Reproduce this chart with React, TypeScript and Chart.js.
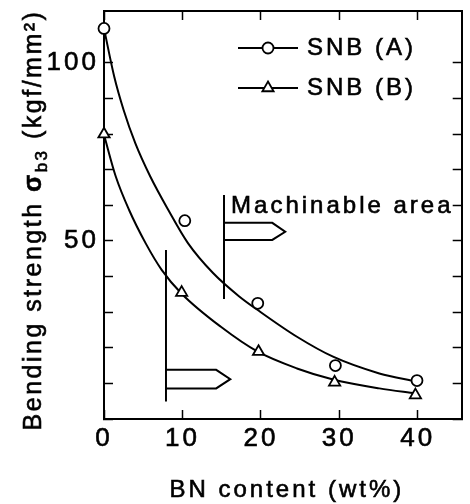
import React, { useEffect, useRef } from 'react';
import { Chart, registerables } from 'chart.js';

Chart.register(...registerables);

const FONT = '"Liberation Sans", Arial, Helvetica, sans-serif';

// ---- axis ticks ----
const bnTicks = [0, 10, 20, 30, 40];
const strengthTickLabels = [50, 100];
const bnMax = 45.6;
const strengthMax = 114.6;

// ---- measured points ----
const bnA = [0, 10.3, 19.6, 29.5, 39.9];
const strengthA = [109.7, 55.7, 32.5, 15.0, 10.8];
const bnB = [0, 9.9, 19.7, 29.4, 39.7];
const strengthB = [80, 35.5, 18.9, 10.3, 6.7];

// ---- fitted curves ----
const curveAx = [0, 1.3, 2.5, 4, 5.9, 8.2, 10.7, 13.9, 17.2, 19.6, 24.6, 29.2, 35.1, 39.8];
const curveAy = [109.7, 96.2, 86.8, 77.4, 68.1, 58.7, 49.4, 41.0, 34.5, 30.6, 23.1, 17.5, 12.8, 10.5];
const curveBx = [0, 1.5, 3.2, 5.3, 7.35, 9.9, 14.9, 19.6, 24.6, 29.2, 35.1, 39.7];
const curveBy = [79.8, 68.1, 58.7, 49.4, 41.9, 35.2, 25.9, 18.9, 14.2, 11.1, 8.6, 7.2];

// ---- machinable-area markers (data coordinates) ----
const machLineX = [15.3, 15.3];
const machLineY = [62.9, 33.7];
const machArrowX = [15.3, 21.45, 23.1, 21.45, 15.3];
const machArrowY = [55.1, 55.1, 52.6, 50.3, 50.3];
const lowLineX = [7.9, 7.9];
const lowLineY = [47.5, 4.9];
const lowArrowX = [7.9, 14.3, 16.1, 14.3, 7.9];
const lowArrowY = [13.8, 13.8, 11.2, 8.6, 8.6];
const machLabel = 'Machinable area';
const machLabelPos = [16.2, 57.8];

const seriesNames = ['SNB (A)', 'SNB (B)'];
const yTitleParts = ['Bending strength ', 'σ', 'b3', ' (kgf/mm²)'];
const xTitle = 'BN content (wt%)';

const zip = (xs: number[], ys: number[]) => xs.map((x, i) => ({ x, y: ys[i] }));

const SPACING = '3px';
const STROKE = 0.6;

function heavyText(ctx: CanvasRenderingContext2D, t: string, x: number, y: number) {
  ctx.fillText(t, x, y);
  ctx.lineWidth = STROKE;
  ctx.strokeText(t, x, y);
}

const decorPlugin = {
  id: 'decor',
  beforeUpdate(chart: any) {
    chart.ctx.letterSpacing = SPACING;
  },
  beforeDraw(chart: any) {
    chart.ctx.letterSpacing = SPACING;
  },
  afterDraw(chart: any) {
    const ctx = chart.ctx as CanvasRenderingContext2D;
    const xs = chart.scales.x;
    const ys = chart.scales.y;
    const area = chart.chartArea;
    ctx.save();
    (ctx as any).letterSpacing = SPACING;
    ctx.fillStyle = '#000';
    ctx.strokeStyle = '#000';

    // Machinable area label
    ctx.font = `24px ${FONT}`;
    ctx.textAlign = 'left';
    ctx.textBaseline = 'alphabetic';
    heavyText(ctx, machLabel, xs.getPixelForValue(machLabelPos[0]), ys.getPixelForValue(machLabelPos[1]));

    // X title
    ctx.textAlign = 'center';
    ctx.textBaseline = 'middle';
    heavyText(ctx, xTitle, (area.left + area.right) / 2 + 4, 490);

    // Legend
    const legendRows = [48, 88];
    ctx.textAlign = 'left';
    ctx.textBaseline = 'middle';
    legendRows.forEach((ly, i) => {
      ctx.lineWidth = 2;
      ctx.beginPath();
      ctx.moveTo(238, ly);
      ctx.lineTo(298, ly);
      ctx.stroke();
      ctx.fillStyle = '#fff';
      ctx.lineWidth = 1.8;
      ctx.beginPath();
      if (i === 0) {
        ctx.arc(268, ly, 5.5, 0, Math.PI * 2);
      } else {
        const r = 6.5;
        const cx = 268;
        const cy = ly;
        ctx.moveTo(cx, cy - r);
        ctx.lineTo(cx + r * Math.sin(Math.PI * 2 / 3), cy - r * Math.cos(Math.PI * 2 / 3));
        ctx.lineTo(cx + r * Math.sin(Math.PI * 4 / 3), cy - r * Math.cos(Math.PI * 4 / 3));
        ctx.closePath();
      }
      ctx.fill();
      ctx.stroke();
      ctx.fillStyle = '#000';
      heavyText(ctx, seriesNames[i], 307, ly);
    });

    // Y title (rotated, with subscript)
    const big = `25px ${FONT}`;
    const bold = `bold 25px ${FONT}`;
    const small = `17px ${FONT}`;
    const parts = [
      { t: yTitleParts[0], f: big, dy: 0 },
      { t: yTitleParts[1], f: bold, dy: 0 },
      { t: yTitleParts[2], f: small, dy: 6 },
      { t: yTitleParts[3], f: big, dy: 0 },
    ];
    (ctx as any).letterSpacing = '2.5px';
    let total = 0;
    const widths = parts.map((p) => {
      ctx.font = p.f;
      const w = ctx.measureText(p.t).width;
      total += w;
      return w;
    });
    ctx.translate(41, 220);
    ctx.rotate(-Math.PI / 2);
    ctx.textAlign = 'left';
    ctx.textBaseline = 'alphabetic';
    let cx = -total / 2;
    parts.forEach((p, i) => {
      ctx.font = p.f;
      heavyText(ctx, p.t, cx, p.dy);
      cx += widths[i];
    });
    ctx.restore();
  },
};

const tickGrid = {
  drawOnChartArea: false,
  drawTicks: true,
  tickLength: -9,
  tickWidth: 1.5,
  tickColor: '#000',
};

const fixBox = (w: number | null, h: number | null) => (s: any) => {
  if (w !== null) s.width = w;
  if (h !== null) s.height = h;
  s.paddingTop = 0;
  s.paddingBottom = 0;
  s.paddingLeft = 0;
  s.paddingRight = 0;
};

export default function App() {
  const ref = useRef<HTMLCanvasElement | null>(null);

  useEffect(() => {
    if (!ref.current) return;
    Chart.defaults.font.family = FONT;
    Chart.defaults.color = '#000';

    const lineDs = (data: any[], width: number) => ({
      type: 'scatter' as const,
      data,
      showLine: true,
      borderColor: '#000',
      borderWidth: width,
      pointRadius: 0,
      pointHoverRadius: 0,
      fill: false,
      borderJoinStyle: 'miter' as const,
    });

    const chart = new Chart(ref.current, {
      type: 'scatter',
      data: {
        datasets: [
          {
            label: seriesNames[0],
            data: zip(bnA, strengthA),
            pointStyle: 'circle',
            pointRadius: 5.5,
            pointBorderWidth: 1.8,
            pointBackgroundColor: '#fff',
            pointBorderColor: '#000',
            showLine: false,
            clip: false,
          } as any,
          {
            label: seriesNames[1],
            data: zip(bnB, strengthB),
            pointStyle: 'triangle',
            pointRadius: 6.5,
            pointBorderWidth: 1.8,
            pointBackgroundColor: '#fff',
            pointBorderColor: '#000',
            showLine: false,
            clip: false,
          } as any,
          { ...lineDs(zip(curveAx, curveAy), 2), cubicInterpolationMode: 'monotone' } as any,
          { ...lineDs(zip(curveBx, curveBy), 2), cubicInterpolationMode: 'monotone' } as any,
          lineDs(zip(machLineX, machLineY), 2) as any,
          lineDs(zip(machArrowX, machArrowY), 2) as any,
          lineDs(zip(lowLineX, lowLineY), 2) as any,
          lineDs(zip(lowArrowX, lowArrowY), 2) as any,
        ],
      },
      options: {
        responsive: false,
        animation: false,
        devicePixelRatio: 1,
        layout: { padding: 0 },
        plugins: {
          legend: { display: false },
          tooltip: { enabled: false },
        },
        scales: {
          x: {
            type: 'linear',
            position: 'bottom',
            min: 0,
            max: bnMax,
            afterFit: fixBox(null, 85),
            border: { display: true, width: 2, color: '#000' },
            grid: tickGrid,
            ticks: {
              stepSize: 10,
              includeBounds: false,
              padding: 13,
              autoSkip: false,
              maxRotation: 0,
              font: { size: 26 },
              color: '#000',
              textStrokeWidth: STROKE,
              textStrokeColor: '#000',
              callback: (v: any) => (bnTicks.includes(v) ? String(v) : ''),
            },
            title: { display: false },
          },
          x2: {
            type: 'linear',
            position: 'top',
            min: 0,
            max: bnMax,
            afterFit: fixBox(null, 11),
            border: { display: true, width: 2, color: '#000' },
            grid: tickGrid,
            ticks: {
              stepSize: 10,
              includeBounds: false,
              padding: 0,
              autoSkip: false,
              maxRotation: 0,
              callback: () => '',
            },
          },
          y: {
            type: 'linear',
            position: 'left',
            min: 0,
            max: strengthMax,
            afterFit: fixBox(104, null),
            afterBuildTicks: (s: any) => { s.ticks = s.ticks.filter((t: any) => t.value <= 100); },
            border: { display: true, width: 2, color: '#000' },
            grid: tickGrid,
            ticks: {
              stepSize: 10,
              includeBounds: false,
              padding: 14,
              autoSkip: false,
              font: { size: 26 },
              color: '#000',
              textStrokeWidth: STROKE,
              textStrokeColor: '#000',
              callback: (v: any) => (strengthTickLabels.includes(v) ? String(v) : ''),
            },
          },
          y2: {
            type: 'linear',
            position: 'right',
            min: 0,
            max: strengthMax,
            afterFit: fixBox(3, null),
            afterBuildTicks: (s: any) => { s.ticks = s.ticks.filter((t: any) => t.value <= 100); },
            border: { display: true, width: 2, color: '#000' },
            grid: tickGrid,
            ticks: {
              stepSize: 10,
              includeBounds: false,
              padding: 0,
              autoSkip: false,
              callback: () => '',
            },
          },
        },
      } as any,
      plugins: [decorPlugin as any],
    });
    return () => chart.destroy();
  }, []);

  return (
    <div style={{ position: 'fixed', left: 0, top: 0, width: 470, height: 504, background: '#fff' }}>
      <canvas ref={ref} width={470} height={504} style={{ display: 'block' }} />
    </div>
  );
}
